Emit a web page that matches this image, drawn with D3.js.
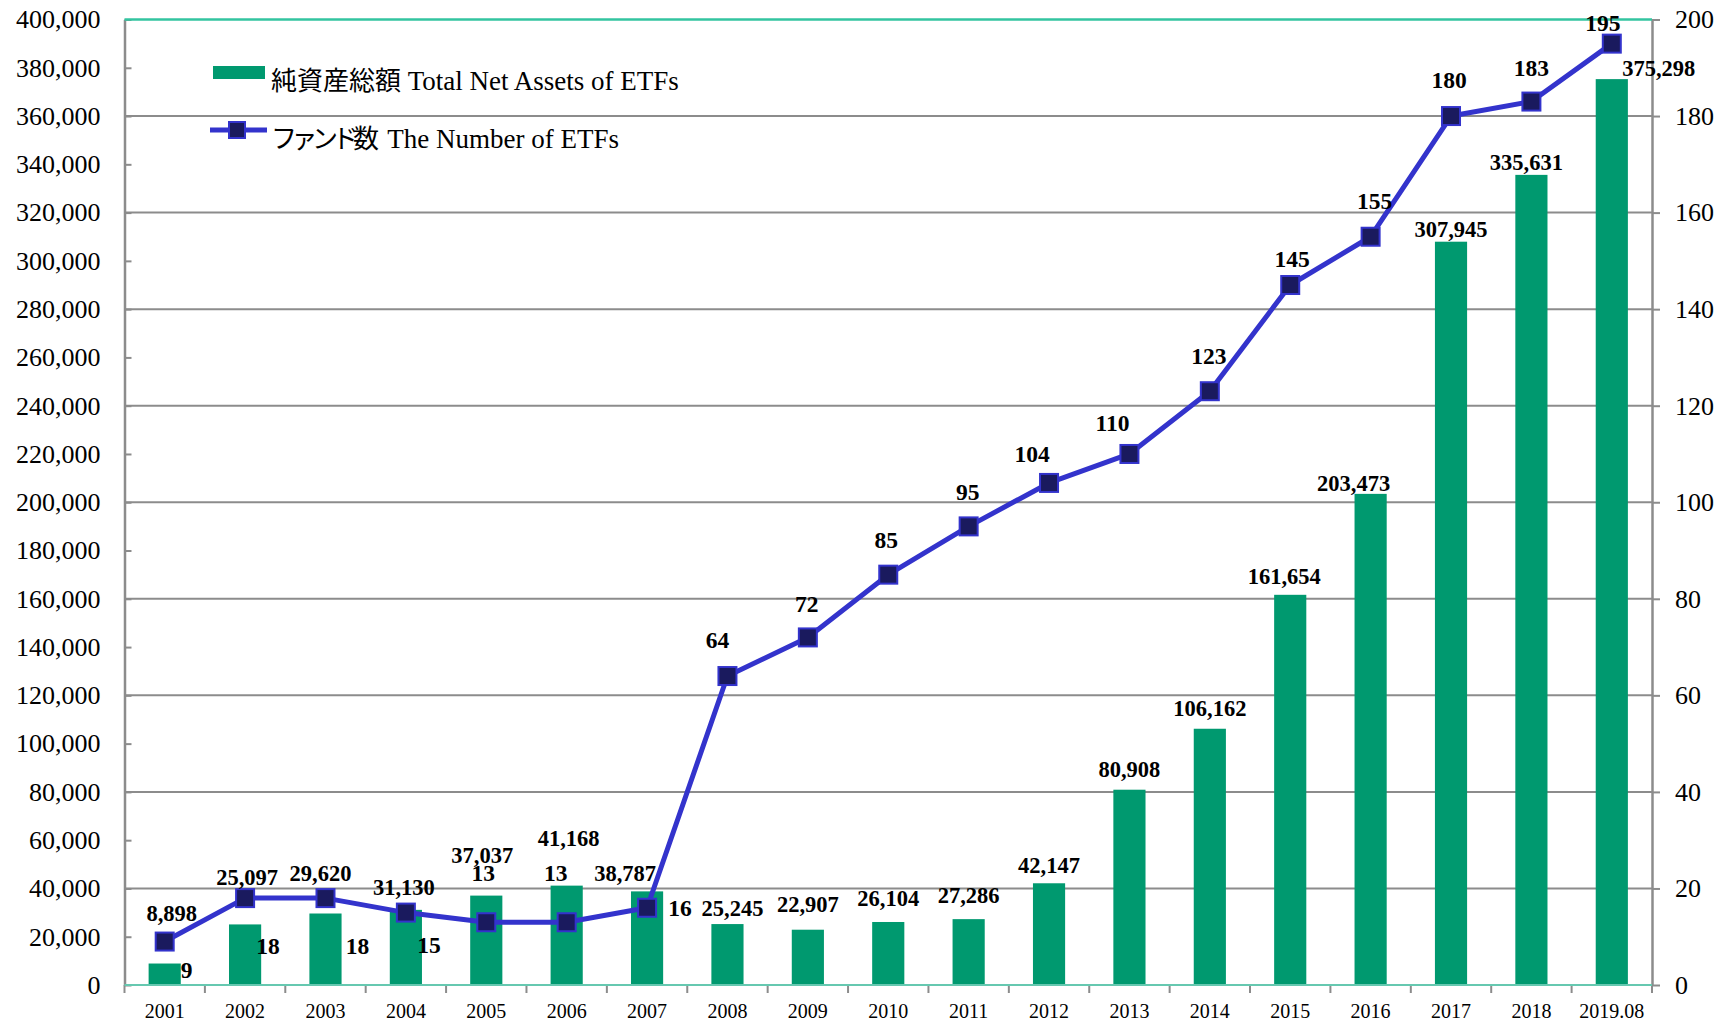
<!DOCTYPE html>
<html>
<head>
<meta charset="utf-8">
<script src="https://cdn.jsdelivr.net/npm/d3@7"></script>
<style>
  body { margin: 0; background: #fff; }
  text { font-family: "Liberation Serif", "Times New Roman", "Noto Sans CJK JP", serif; }
</style>
</head>
<body>
<svg width="1728" height="1022"></svg>
<script>
// data
var years = ["2001","2002","2003","2004","2005","2006","2007","2008","2009","2010",
             "2011","2012","2013","2014","2015","2016","2017","2018","2019.08"];
var assets = [8898, 25097, 29620, 31130, 37037, 41168, 38787, 25245, 22907, 26104,
              27286, 42147, 80908, 106162, 161654, 203473, 307945, 335631, 375298];
var counts = [9, 18, 18, 15, 13, 13, 16, 64, 72, 85, 95, 104, 110, 123, 145, 155, 180, 183, 195];
var leftTicks = d3.range(0, 400001, 20000);
var rightTicks = d3.range(0, 201, 20);
var legendJa = ["純資産総額", "ファンド数"];
var legendEn = ["Total Net Assets of ETFs", "The Number of ETFs"];

// label nudges (layout only) : [dx, dy] from bar top / marker centre
var assetNudge = [[7,-50],[2,-47],[-5,-40],[-2,-23],[-4,-40],[2,-48],[-22,-18],[5,-16],[0,-26],[0,-24],
                  [0,-24],[0,-18],[0,-21],[0,-21],[-6,-19],[-17,-11],[0,-13],[-5,-13],[47,-11]];
var countNudge = [[22,28],[23,48],[32,48],[23,32],[-3,-49],[-11,-49],[33,0],[-10,-36],[-1,-34],[-2,-35],
                  [-1,-35],[-17,-29],[-17,-31],[-1,-35],[2,-26],[4,-36],[-2,-36],[0,-34],[-9,-21]];

var svg = d3.select("svg");
var L = 124.5, R = 1652, T = 19.5, B = 985;

var x = d3.scaleBand().domain(years).range([L, R]).paddingInner(0.6).paddingOuter(0.3);
var y = d3.scaleLinear().domain([0, 400000]).range([B, T]);
var y2 = d3.scaleLinear().domain([0, 200]).range([B, T]);
var cx = function(d) { return x(d) + x.bandwidth() / 2; };

var grey = "#8c8c8c";

// gridlines every 40,000 (= every 20 on right)
svg.append("g").selectAll("line")
  .data(rightTicks.filter(function(d) { return d > 0 && d < 200; }))
  .enter().append("line")
    .attr("x1", L).attr("x2", R)
    .attr("y1", function(d) { return y2(d); })
    .attr("y2", function(d) { return y2(d); })
    .attr("stroke", grey).attr("stroke-width", 2);

// bars
svg.append("g").selectAll("rect")
  .data(assets)
  .enter().append("rect")
    .attr("x", function(d, i) { return x(years[i]); })
    .attr("y", function(d) { return y(d); })
    .attr("width", x.bandwidth())
    .attr("height", function(d) { return B - y(d); })
    .attr("fill", "#00996f");

// left axis, ticks pointing inward
var gl = svg.append("g").attr("transform", "translate(" + L + ",0)")
  .call(d3.axisLeft(y).tickValues(leftTicks).tickFormat(d3.format(",")).tickSizeInner(-7).tickSizeOuter(0).tickPadding(24));
// right axis
var gr = svg.append("g").attr("transform", "translate(" + R + ",0)")
  .call(d3.axisRight(y2).tickValues(rightTicks).tickSizeInner(8).tickSizeOuter(0).tickPadding(15));
[gl, gr].forEach(function(g) {
  g.select(".domain").attr("stroke", grey).attr("stroke-width", 2.5);
  g.selectAll(".tick line").attr("stroke", grey).attr("stroke-width", 2);
  g.selectAll(".tick text").attr("font-size", 26).attr("fill", "#000")
    .style("font-family", "'Liberation Serif', serif");
});

// bottom axis labels
var gb = svg.append("g").attr("transform", "translate(0," + B + ")")
  .call(d3.axisBottom(x).tickSize(0).tickPadding(19));
gb.select(".domain").remove();
gb.selectAll(".tick text").attr("font-size", 20).attr("fill", "#000")
  .style("font-family", "'Liberation Serif', serif");
// category boundary ticks
var step = x.step();
svg.append("g").selectAll("line")
  .data(years.concat(["end"]))
  .enter().append("line")
    .attr("x1", function(d, i) { return L + i * step; })
    .attr("x2", function(d, i) { return L + i * step; })
    .attr("y1", B).attr("y2", B + 8)
    .attr("stroke", grey).attr("stroke-width", 2);

// frame lines top and bottom
svg.append("line").attr("x1", L).attr("x2", R).attr("y1", T).attr("y2", T)
  .attr("stroke", "#33c4a0").attr("stroke-width", 2.5);
svg.append("line").attr("x1", L).attr("x2", R).attr("y1", B).attr("y2", B)
  .attr("stroke", "#66c8b0").attr("stroke-width", 2);

// line series
var line = d3.line()
  .x(function(d, i) { return cx(years[i]); })
  .y(function(d) { return y2(d); });
svg.append("path").datum(counts)
  .attr("d", line)
  .attr("fill", "none").attr("stroke", "#3333cc").attr("stroke-width", 5)
  .attr("stroke-linejoin", "round");
svg.append("g").selectAll("rect")
  .data(counts)
  .enter().append("rect")
    .attr("x", function(d, i) { return cx(years[i]) - 9; })
    .attr("y", function(d) { return y2(d) - 9; })
    .attr("width", 18).attr("height", 18)
    .attr("fill", "#1a1a5e").attr("stroke", "#3333cc").attr("stroke-width", 2);

// data labels
var fmt = d3.format(",");
svg.append("g").selectAll("text")
  .data(assets)
  .enter().append("text")
    .attr("x", function(d, i) { return cx(years[i]) + assetNudge[i][0]; })
    .attr("y", function(d, i) { return y(d) + assetNudge[i][1]; })
    .attr("dy", "0.35em")
    .attr("text-anchor", "middle")
    .attr("font-size", 22.5).attr("font-weight", "bold")
    .text(function(d) { return fmt(d); });
svg.append("g").selectAll("text")
  .data(counts)
  .enter().append("text")
    .attr("x", function(d, i) { return cx(years[i]) + countNudge[i][0]; })
    .attr("y", function(d, i) { return y2(d) + countNudge[i][1]; })
    .attr("dy", "0.35em")
    .attr("text-anchor", "middle")
    .attr("font-size", 23.5).attr("font-weight", "bold")
    .text(function(d) { return d; });

// legend
var lg = svg.append("g");
lg.append("rect").attr("x", 213).attr("y", 66).attr("width", 52).attr("height", 13).attr("fill", "#00996f");
lg.append("line").attr("x1", 210).attr("x2", 267).attr("y1", 130).attr("y2", 130)
  .attr("stroke", "#3333cc").attr("stroke-width", 5);
lg.append("rect").attr("x", 229).attr("y", 122).attr("width", 16).attr("height", 16)
  .attr("fill", "#1a1a5e").attr("stroke", "#3333cc").attr("stroke-width", 2);
var lt = lg.selectAll("text")
  .data(legendJa)
  .enter().append("text")
    .attr("x", 271)
    .attr("y", function(d, i) { return i ? 148 : 90; });
lt.append("tspan").attr("font-size", 26)
  .attr("letter-spacing", function(d, i) { return i ? -5.5 : 0; })
  .style("font-family", "'Noto Sans CJK JP', sans-serif")
  .text(function(d) { return d; });
lt.append("tspan").attr("font-size", 27)
  .attr("dx", function(d, i) { return i ? 7 : 0; })
  .text(function(d, i) { return " " + legendEn[i]; });
</script>
</body>
</html>
